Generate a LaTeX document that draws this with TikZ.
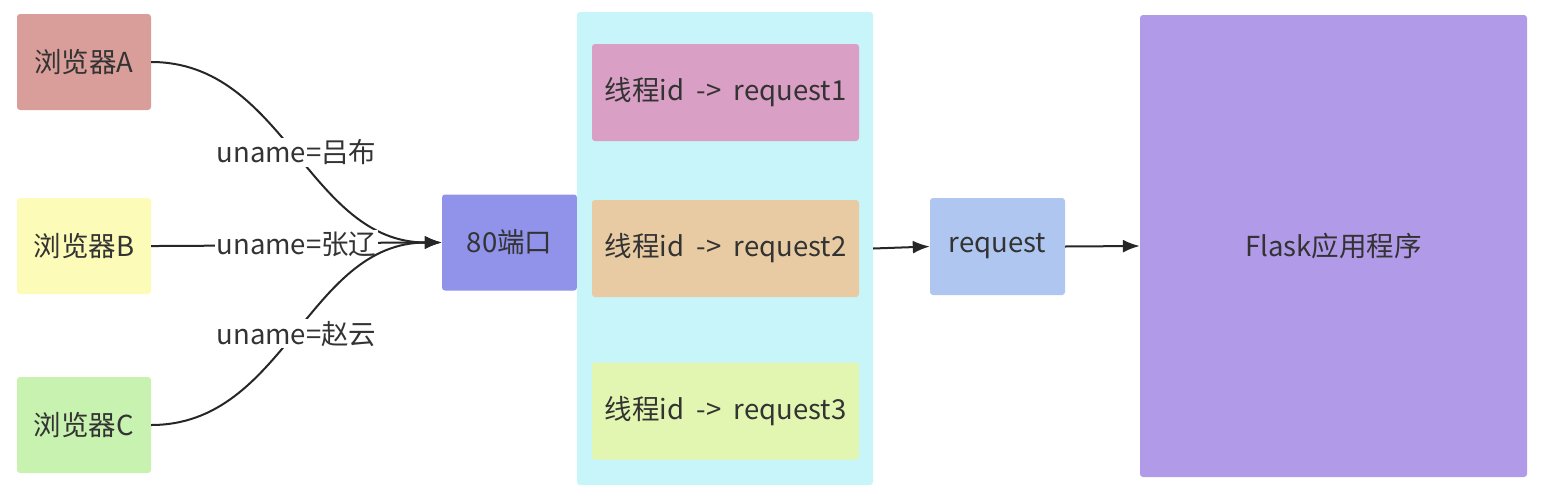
\documentclass[tikz,border=0pt]{standalone}
\usepackage{fontspec}
\setmainfont{Noto Sans CJK SC}
\usetikzlibrary{arrows.meta}

\definecolor{browserA}{HTML}{D99E9A}
\definecolor{browserB}{HTML}{FCFBB8}
\definecolor{browserC}{HTML}{C8F2B0}
\definecolor{portcol}{HTML}{9192E9}
\definecolor{poolcol}{HTML}{C8F5F9}
\definecolor{reqone}{HTML}{DA9FC4}
\definecolor{reqtwo}{HTML}{E8CBA3}
\definecolor{reqthree}{HTML}{E3F6B1}
\definecolor{reqcol}{HTML}{AEC6F0}
\definecolor{flaskcol}{HTML}{B19AE8}
\definecolor{ink}{HTML}{333333}

\begin{document}
\begin{tikzpicture}
  [x=1pt,y=-1pt,
   every node/.style={rounded corners=3pt,text=ink,font=\fontsize{27.5}{32}\selectfont},
   box/.style={minimum width=134pt,minimum height=96pt},
   slot/.style={minimum width=267pt,minimum height=97pt},
   lbl/.style={fill=white,rounded corners=0pt,inner sep=2pt},
   link/.style={draw=black!85,line width=2pt,-{Latex[length=17pt,width=13pt]}}]
  \useasboundingbox (0,0) rectangle (1550,496);

  \node[box,fill=browserA] (ba) at (84,62)  {浏览器A};
  \node[box,fill=browserB] (bb) at (84,246) {浏览器B};
  \node[box,fill=browserC] (bc) at (84,425) {浏览器C};

  \node[box,fill=portcol,minimum width=135pt] (port) at (509.5,242.5) {80端口};

  \node[fill=poolcol,minimum width=296pt,minimum height=473pt] (pool) at (725,248.5) {};
  \node[slot,fill=reqone]   (r1) at (725.5,92.5)  {线程id\ \ ->\ \ request1};
  \node[slot,fill=reqtwo]   (r2) at (725.5,248.5) {线程id\ \ ->\ \ request2};
  \node[slot,fill=reqthree] (r3) at (725.5,411)   {线程id\ \ ->\ \ request3};

  \node[box,fill=reqcol,minimum width=135pt,minimum height=97pt] (req) at (997.5,246.5) {request};
  \node[fill=flaskcol,minimum width=387pt,minimum height=462pt] (flask) at (1333.5,246) {Flask应用程序};

  \foreach \from/\txt in {ba/uname=吕布,bb/uname=张辽,bc/uname=赵云}
    \draw[link] (\from.east) to[out=0,in=180] node[lbl] {\txt} (port.west);

  \draw[link] (pool.east) -- (req.west);
  \draw[link] (req.east) -- (flask.west);

\end{tikzpicture}
\end{document}
